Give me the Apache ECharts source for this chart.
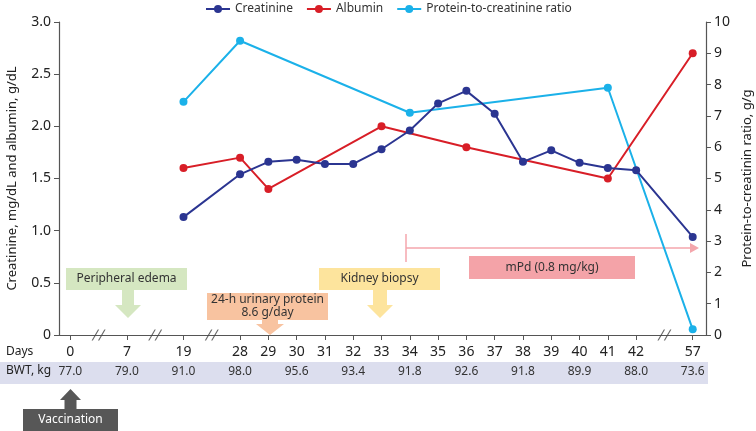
<!DOCTYPE html>
<html>
<head>
<meta charset="utf-8">
<script src="https://cdn.jsdelivr.net/npm/echarts@6/dist/echarts.min.js"></script>
<style>
  html, body { margin: 0; padding: 0; background: #fff; }
  #chart { width: 756px; height: 431px; }
</style>
</head>
<body>
<div id="chart"></div>
<script>
// day ticks on the (broken) time axis
const dayTicks = [0, 7, 19, 28, 29, 30, 31, 32, 33, 34, 35, 36, 37, 38, 39, 40, 41, 42, 57]
// axis is broken right after these days
const breakAfter = [0, 7, 19, 42]

const creatDays = [19, 28, 29, 30, 31, 32, 33, 34, 35, 36, 37, 38, 39, 40, 41, 42, 57]
const creatinine = [1.13, 1.54, 1.66, 1.68, 1.64, 1.64, 1.78, 1.96, 2.22, 2.34, 2.12, 1.66, 1.77, 1.65, 1.60, 1.58, 0.94]

const albDays = [19, 28, 29, 33, 36, 41, 57]
const albumin = [1.60, 1.70, 1.40, 2.00, 1.80, 1.50, 2.70]

const ratioDays = [19, 28, 34, 41, 57]
const ratio = [7.45, 9.40, 7.10, 7.90, 0.18]

const bwtDays = [0, 7, 19, 28, 30, 32, 34, 36, 38, 40, 42, 57]
const bwt = [77.0, 79.0, 91.0, 98.0, 95.6, 93.4, 91.8, 92.6, 91.8, 89.9, 88.0, 73.6]

// position of a day on the compressed axis (each break takes one slot)
function pos(day) {
  let i = dayTicks.indexOf(day)
  let extra = breakAfter.filter(b => b < day).length
  return i + extra
}
const tickPos = dayTicks.map(pos)
const bwtPos = bwtDays.map(pos)
const breakPos = breakAfter.map(b => pos(b) + 1)

const pair = (ds, vs) => ds.map((d, i) => [pos(d), vs[i]])

const FONT = 'Noto Sans'
const AX = '#555'

let chart = echarts.init(document.getElementById('chart'))

const option = {
  animation: false,
  textStyle: { fontFamily: FONT },
  legend: {
    data: ['Creatinine', 'Albumin', 'Protein-to-creatinine ratio'],
    top: -2,
    left: 200,
    itemWidth: 24,
    itemHeight: 10,
    itemGap: 13,
    textStyle: { fontSize: 12, color: '#333', fontFamily: FONT }
  },
  grid: { left: 59, right: 50, top: 22, bottom: 96, outerBoundsMode: 'none', containLabel: false },
  xAxis: [
    {
      type: 'value',
      min: -0.4,
      max: 22.47,
      axisLine: { onZero: false, lineStyle: { color: AX, width: 1.2 } },
      axisTick: { show: true, length: 5, customValues: tickPos, lineStyle: { color: AX } },
      axisLabel: {
        customValues: tickPos,
        margin: 10,
        fontSize: 14,
        color: '#222',
        formatter: v => dayTicks[tickPos.indexOf(v)]
      },
      splitLine: { show: false }
    },
    {
      type: 'value',
      position: 'bottom',
      offset: 23,
      min: -0.4,
      max: 22.47,
      axisLine: { show: false, onZero: false },
      axisTick: { show: false },
      axisLabel: {
        customValues: bwtPos,
        margin: 8,
        fontSize: 12,
        color: '#333',
        formatter: v => bwt[bwtPos.indexOf(v)].toFixed(1)
      },
      splitLine: { show: false }
    }
  ],
  yAxis: [
    {
      type: 'value',
      min: 0,
      max: 3,
      interval: 0.5,
      name: 'Creatinine, mg/dL and albumin, g/dL',
      nameLocation: 'middle',
      nameRotate: 90,
      nameGap: 40,
      nameTextStyle: { fontSize: 13, color: '#222' },
      axisLine: { show: true, onZero: false, lineStyle: { color: AX, width: 1.2 } },
      axisTick: { show: true, length: 5, lineStyle: { color: AX } },
      axisLabel: { fontSize: 14, color: '#222', margin: 8, formatter: v => v === 0 ? '0' : v.toFixed(1) },
      splitLine: { show: false }
    },
    {
      type: 'value',
      min: 0,
      max: 10,
      interval: 1,
      position: 'right',
      name: 'Protein-to-creatinin ratio, g/g',
      nameLocation: 'middle',
      nameRotate: 90,
      nameGap: 35,
      nameTextStyle: { fontSize: 13, color: '#222' },
      axisLine: { show: true, onZero: false, lineStyle: { color: AX, width: 1.2 } },
      axisTick: { show: true, length: 5, lineStyle: { color: AX } },
      axisLabel: { fontSize: 14, color: '#222', margin: 8 },
      splitLine: { show: false }
    }
  ],
  series: [
    {
      name: 'Creatinine',
      type: 'line',
      data: pair(creatDays, creatinine),
      symbol: 'circle',
      symbolSize: 8,
      color: '#2b3591',
      lineStyle: { width: 2 },
      z: 4
    },
    {
      name: 'Albumin',
      type: 'line',
      data: pair(albDays, albumin),
      symbol: 'circle',
      symbolSize: 8,
      color: '#d81e27',
      lineStyle: { width: 2 },
      z: 3
    },
    {
      name: 'Protein-to-creatinine ratio',
      type: 'line',
      yAxisIndex: 1,
      data: pair(ratioDays, ratio),
      symbol: 'circle',
      symbolSize: 8,
      color: '#1bb1e9',
      lineStyle: { width: 2 },
      z: 2
    },
    {
      // axis break marks "//"
      type: 'scatter',
      data: breakPos.map(p => [p, 0]),
      symbol: 'path://M0,10 L5,0 L6,0 L1,10 Z M5,10 L10,0 L11,0 L6,10 Z',
      symbolSize: [14, 11],
      itemStyle: { color: '#444' },
      silent: true,
      clip: false,
      z: 5
    }
  ],
  graphic: [
    // BWT band
    { type: 'rect', z: -10, shape: { x: 0, y: 362, width: 708, height: 22 }, style: { fill: '#dcdeee' } },
    { type: 'text', left: 6, top: 346, style: { text: 'Days', fontSize: 12, fill: '#222', fontFamily: FONT } },
    { type: 'text', left: 6, top: 365, style: { text: 'BWT, kg', fontSize: 12, fill: '#222', fontFamily: FONT } },

    // Peripheral edema
    { type: 'rect', shape: { x: 66, y: 268, width: 121, height: 22 }, style: { fill: '#d5e7c1' } },
    { type: 'polygon', shape: { points: [[122, 290], [134, 290], [134, 305], [141, 305], [128, 318], [115, 305], [122, 305]] }, style: { fill: '#d5e7c1' } },
    { type: 'text', x: 126.5, y: 279, style: { text: 'Peripheral edema', fontSize: 12, fill: '#333', align: 'center', verticalAlign: 'middle', fontFamily: FONT } },

    // 24-h urinary protein
    { type: 'rect', shape: { x: 207, y: 293, width: 121, height: 27 }, style: { fill: '#f8c3a0' } },
    { type: 'polygon', shape: { points: [[262, 320], [278, 320], [278, 324], [284, 324], [270, 335], [256, 324], [262, 324]] }, style: { fill: '#f8c3a0' } },
    { type: 'text', x: 267.5, y: 306.5, style: { text: '24-h urinary protein\n8.6 g/day', fontSize: 12, lineHeight: 13, fill: '#333', align: 'center', verticalAlign: 'middle', fontFamily: FONT } },

    // Kidney biopsy
    { type: 'rect', shape: { x: 319, y: 268, width: 121, height: 22 }, style: { fill: '#fde49d' } },
    { type: 'polygon', shape: { points: [[373, 290], [387, 290], [387, 305], [393, 305], [380, 318], [367, 305], [373, 305]] }, style: { fill: '#fde49d' } },
    { type: 'text', x: 379.5, y: 279, style: { text: 'Kidney biopsy', fontSize: 12, fill: '#333', align: 'center', verticalAlign: 'middle', fontFamily: FONT } },

    // mPd treatment arrow
    { type: 'line', shape: { x1: 406, y1: 234, x2: 406, y2: 262 }, style: { stroke: '#f4a6ac', lineWidth: 1.5 } },
    { type: 'line', shape: { x1: 406, y1: 248, x2: 691, y2: 248 }, style: { stroke: '#f4a6ac', lineWidth: 1.5 } },
    { type: 'polygon', shape: { points: [[690, 243], [699, 248], [690, 253]] }, style: { fill: '#f4a6ac' } },
    { type: 'rect', shape: { x: 469, y: 256, width: 166, height: 23 }, style: { fill: '#f4a3a8' } },
    { type: 'text', x: 552, y: 267.5, style: { text: 'mPd (0.8 mg/kg)', fontSize: 12, fill: '#333', align: 'center', verticalAlign: 'middle', fontFamily: FONT } },

    // Vaccination
    { type: 'polygon', shape: { points: [[70.5, 389], [81, 400], [76.5, 400], [76.5, 410], [64.5, 410], [64.5, 400], [60, 400]] }, style: { fill: '#575757' } },
    { type: 'rect', shape: { x: 23, y: 409, width: 95, height: 22 }, style: { fill: '#575757' } },
    { type: 'text', x: 70.5, y: 420, style: { text: 'Vaccination', fontSize: 12, fill: '#fff', align: 'center', verticalAlign: 'middle', fontFamily: FONT } }
  ]
}

chart.setOption(option)
</script>
</body>
</html>
